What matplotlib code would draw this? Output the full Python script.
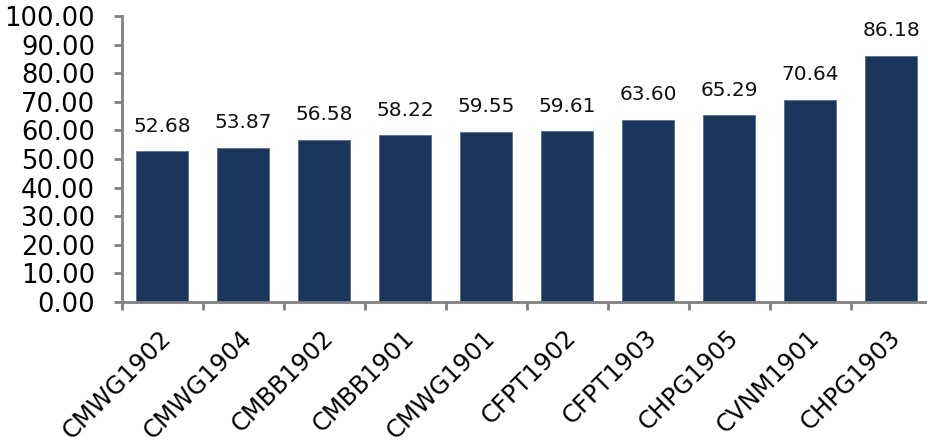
import numpy as np
import matplotlib.pyplot as plt
import matplotlib.transforms as mtransforms

# bond codes and values
codes = ["CMWG1902", "CMWG1904", "CMBB1902", "CMBB1901", "CMWG1901",
         "CFPT1902", "CFPT1903", "CHPG1905", "CVNM1901", "CHPG1903"]
values = [52.68, 53.87, 56.58, 58.22, 59.55, 59.61, 63.60, 65.29, 70.64, 86.18]
yticks = np.arange(0, 101, 10)

bar_color = "#1b365d"
axis_color = "#808080"

fig = plt.figure(figsize=(9.28, 4.44), dpi=100)
ax = fig.add_axes([0.131, 0.32, 0.873, 0.644])

x = np.arange(len(codes))
bars = ax.bar(x, values, width=0.64, color=bar_color, edgecolor="#5a6f8c", linewidth=0.6)

for xi, v in zip(x, values):
    ax.text(xi, v + 5.5, f"{v:.2f}", ha="center", va="bottom", fontsize=14.5, color="#111111")

ax.set_xlim(-0.5, len(codes) - 0.5)
ax.set_ylim(0, 100)
ax.set_yticks(yticks)
ax.set_yticklabels([f"{t:.2f}" for t in yticks], fontsize=18.5)

# ticks between categories on the x axis, labels at bar centres
ax.set_xticks(np.arange(-0.5, len(codes), 1.0))
ax.set_xticklabels([])
ax.set_xticks(x, minor=True)
ax.set_xticklabels(codes, minor=True, rotation=45, ha="right", rotation_mode="anchor", fontsize=17.5)
ax.tick_params(axis="x", which="minor", length=0, pad=17)
ax.tick_params(axis="x", which="major", length=6, width=2, color=axis_color)
ax.tick_params(axis="y", length=6, width=2, color=axis_color, pad=13)

# nudge the rotated labels a bit to the left
shift = mtransforms.ScaledTranslation(-3 / 100, 0, fig.dpi_scale_trans)
for lab in ax.get_xticklabels(minor=True):
    lab.set_transform(lab.get_transform() + shift)

for s in ["top", "right"]:
    ax.spines[s].set_visible(False)
for s in ["left", "bottom"]:
    ax.spines[s].set_color(axis_color)
    ax.spines[s].set_linewidth(2)

fig.savefig("out.png", dpi=100)
